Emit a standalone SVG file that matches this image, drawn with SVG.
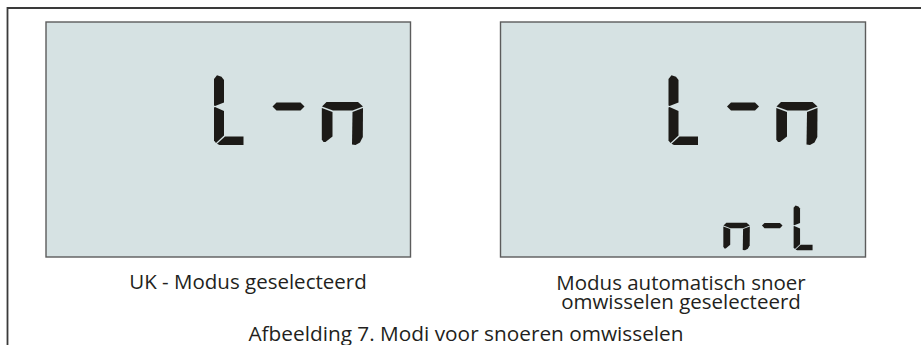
<svg xmlns="http://www.w3.org/2000/svg" xmlns:xlink="http://www.w3.org/1999/xlink" width="921" height="345" viewBox="0 0 921 345">
  <style>
    .frame { fill: none; stroke: #3a3a3a; stroke-width: 1.8; }
    .lcd { fill: #d6e2e3; stroke: #5c5c5c; stroke-width: 1.4; }
    .seg { fill: #1c1a17; }
    .lbl { font-family: "Open Sans", "Liberation Sans", sans-serif; font-size: 20.5px; fill: #231f20; text-anchor: middle; }
    .cap { font-size: 20.8px; }
  </style>
  <defs>
    <g id="digL" class="seg">
      <path d="M0.5,4 L3.5,0.3 L8,1.8 L10.5,5 L10.5,27.5 L1.5,31 L0.5,30.5 Z"/>
      <path d="M0.5,32.5 L1.5,32 L10.5,36 L10.5,60.5 L2.5,68 L0.5,65.5 Z"/>
      <path d="M11.5,61.5 L30,61.5 L30,70 L6,70 L3.5,68.8 Z"/>
    </g>
    <g id="digDash" class="seg">
      <path d="M59,31.5 L63,27.5 L87,27.5 L91,31.5 L87,35.5 L63,35.5 Z"/>
    </g>
    <g id="digN" class="seg">
      <path d="M108.5,31.5 L113,27 L144.5,27 L149.5,31.5 L139,35.5 L119.5,35.5 Z"/>
      <path d="M108.3,33 L119,37 L119,61.5 L112,67 L110,67 L108.3,64.5 Z"/>
      <path d="M149.5,33 L139,37 L138.5,69.5 L142,70 L146.5,67.5 L149.3,62 Z"/>
    </g>
    <g id="bigLn">
      <use href="#digL"/>
      <use href="#digDash"/>
      <use href="#digN"/>
    </g>
  </defs>

  <g id="frame">
    <path class="frame" d="M7.5,345 L7.5,8 L921,8"/>
  </g>

  <g id="panel-uk">
    <rect class="lcd" x="46" y="22" width="364.5" height="235"/>
    <use href="#bigLn" transform="translate(213.5,75)"/>
    <text class="lbl" x="248" y="289">UK - Modus geselecteerd</text>
  </g>

  <g id="panel-auto">
    <rect class="lcd" x="500.5" y="22" width="365" height="235"/>
    <use href="#bigLn" transform="translate(668,75)"/>
    <use href="#digN" transform="translate(653.7,205.3) scale(0.643)"/>
    <use href="#digDash" transform="translate(724,205.3) scale(0.643)"/>
    <use href="#digL" transform="translate(793.3,205.3) scale(0.643)"/>
    <text class="lbl" x="681" y="289.5">Modus automatisch snoer</text>
    <text class="lbl" x="681" y="308.5">omwisselen geselecteerd</text>
  </g>

  <g id="caption">
    <text class="lbl cap" x="466" y="340.5">Afbeelding 7. Modi voor snoeren omwisselen</text>
  </g>
</svg>
